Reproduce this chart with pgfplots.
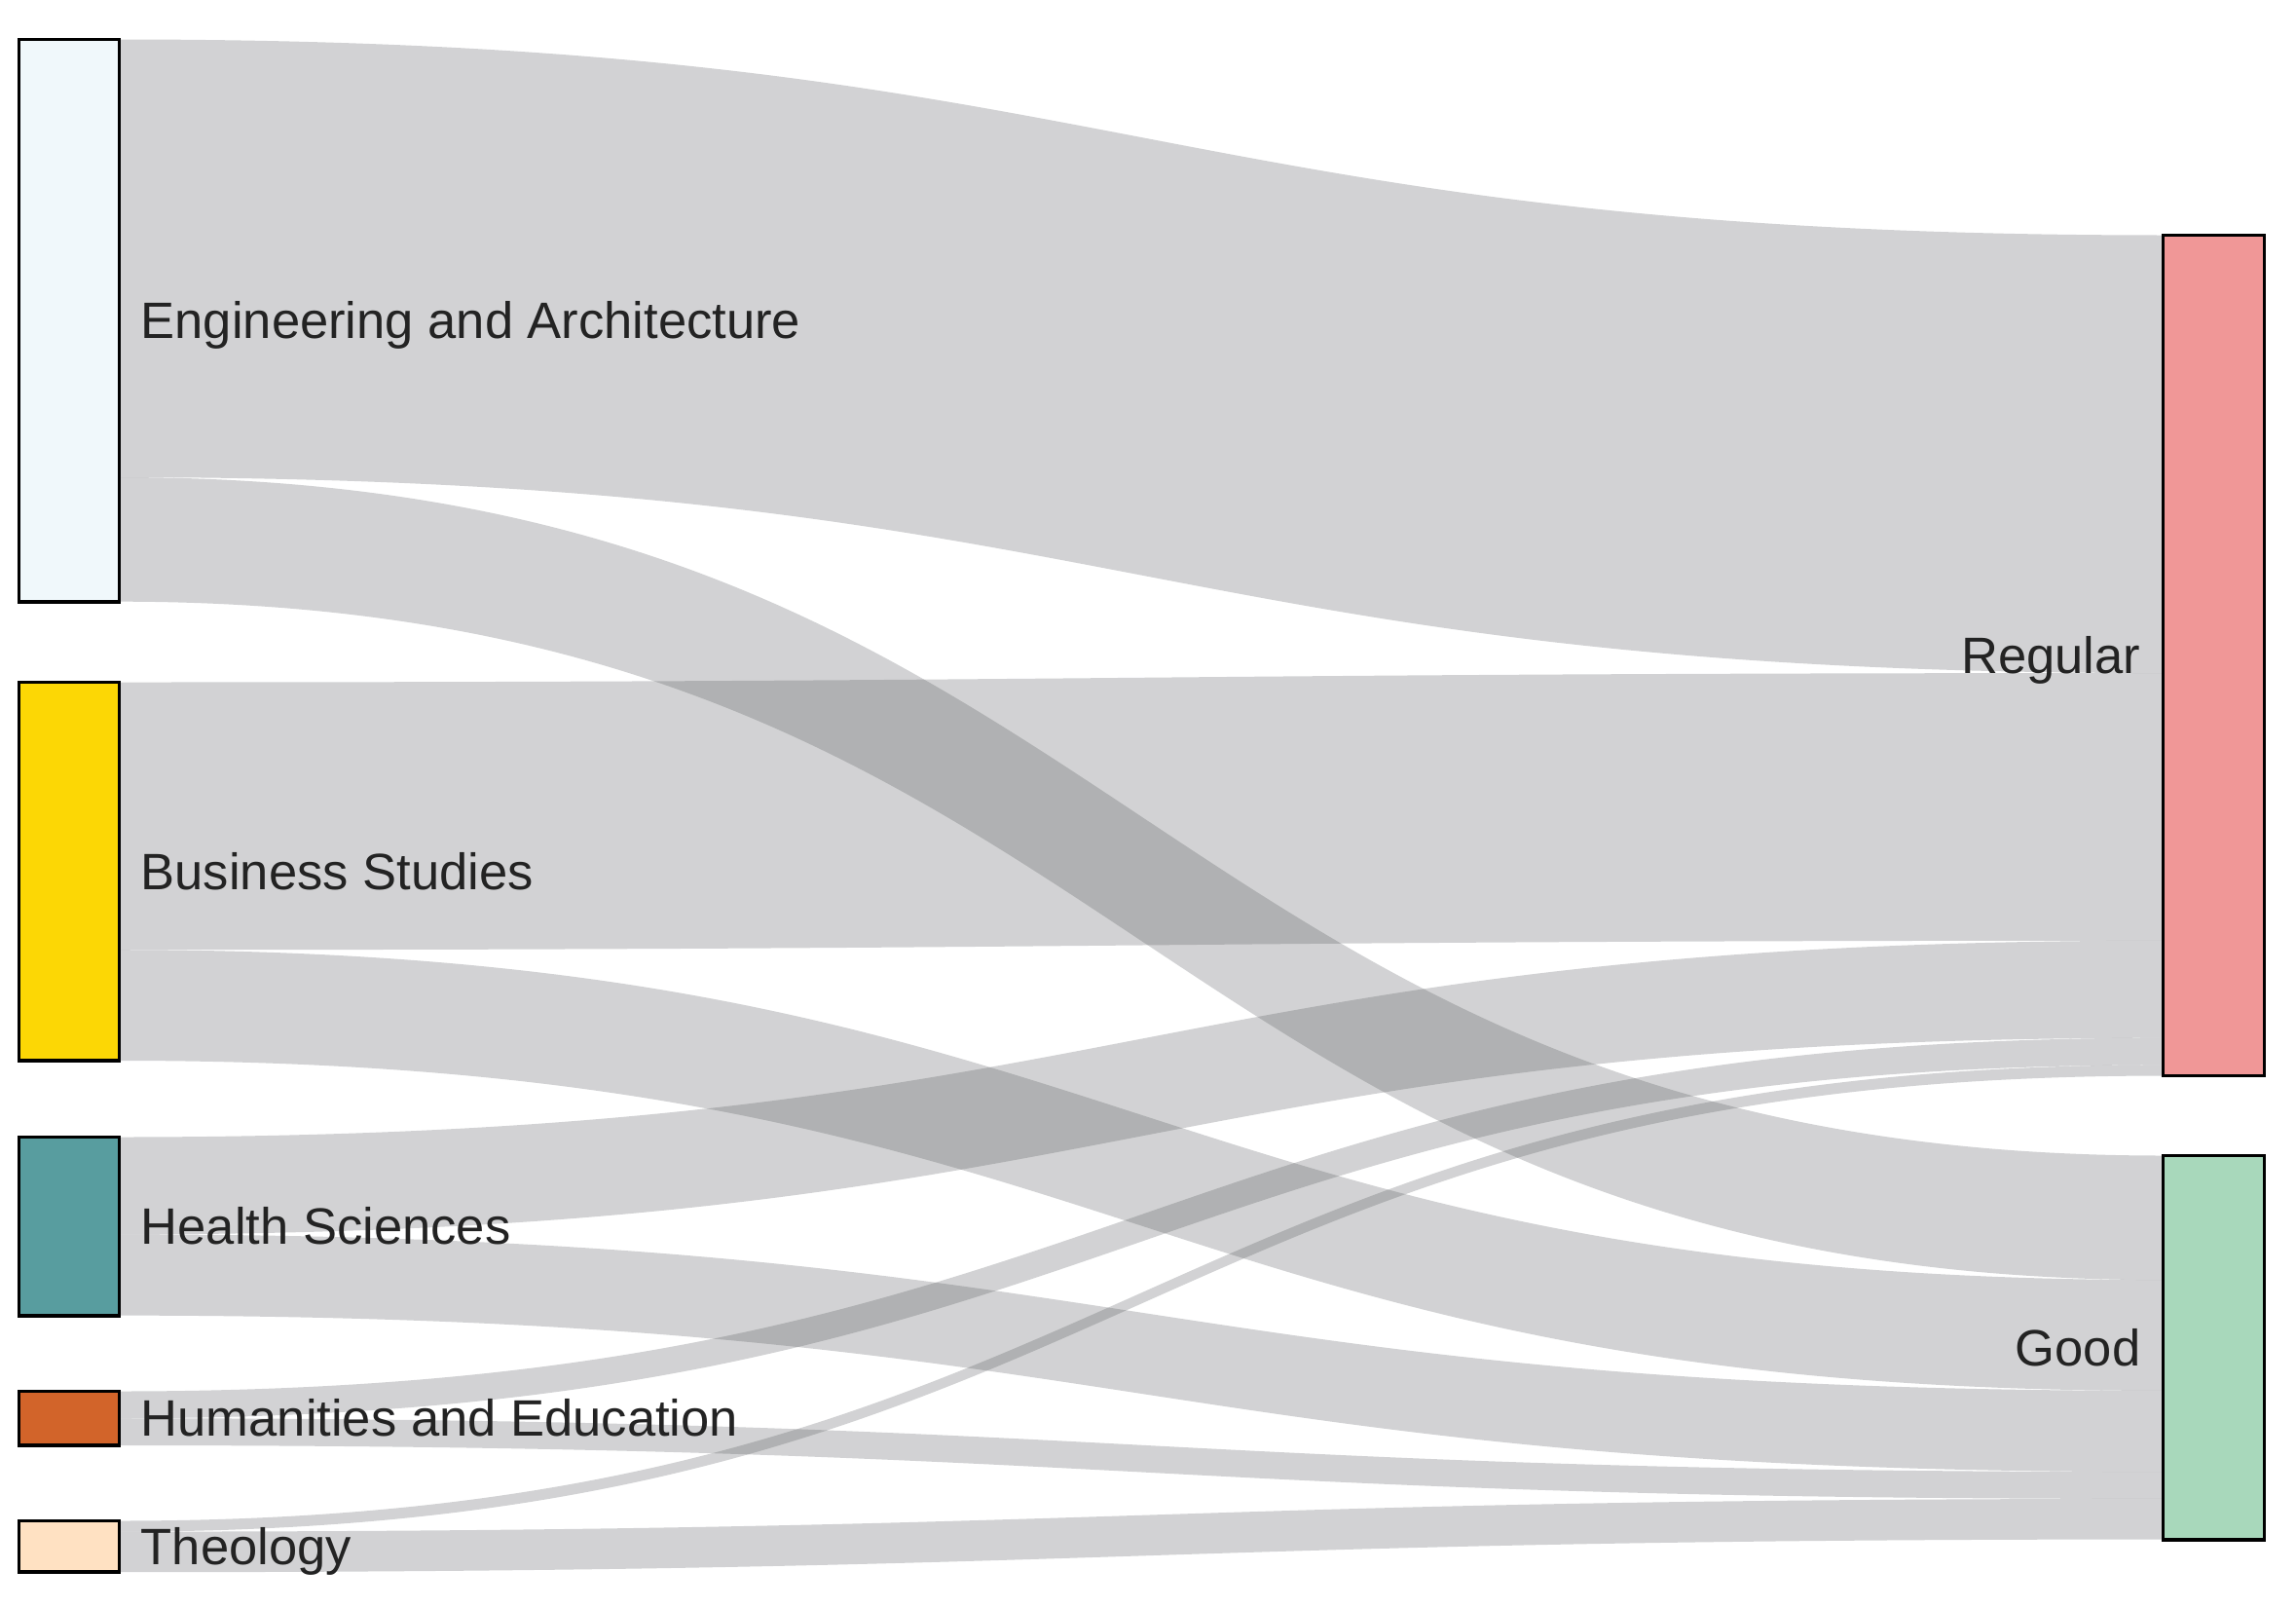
\documentclass[border=0pt]{standalone}
\usepackage{pgfplots}
\pgfplotsset{compat=1.18}
\usepackage{fontspec}
\setmainfont{Liberation Sans}

\definecolor{linkgray}{RGB}{75,77,82}
\definecolor{txt}{RGB}{35,35,35}
\definecolor{cEng}{RGB}{240,248,251}
\definecolor{cBus}{RGB}{252,215,5}
\definecolor{cHea}{RGB}{88,157,159}
\definecolor{cHum}{RGB}{210,100,42}
\definecolor{cThe}{RGB}{255,225,194}
\definecolor{cReg}{RGB}{240,151,151}
\definecolor{cGoo}{RGB}{168,216,187}

\newcommand\labfont{\fontsize{14.95}{17}\selectfont}

% layout in pixel units of the axis (1 unit = 0.01cm)
\def\k{5.55}% pixels per unit of flow
\def\xL{122.5}\def\xR{2221.5}\def\xM{1172}
\def\topEng{40.5}\def\topBus{700.5}\def\topHea{1167.5}\def\topHum{1428.5}\def\topThe{1561.5}
\def\topReg{241.5}\def\topGoo{1186.5}
% running offsets, filled by \flow
\def\offEng{0}\def\offBus{0}\def\offHea{0}\def\offHum{0}\def\offThe{0}
\def\offReg{0}\def\offGoo{0}

% \flow{source}{target}{value}
\newcommand\flow[3]{%
  \pgfmathsetmacro\ya{\csname top#1\endcsname+\csname off#1\endcsname*\k}%
  \pgfmathsetmacro\yb{\ya+#3*\k}%
  \pgfmathsetmacro\yc{\csname top#2\endcsname+\csname off#2\endcsname*\k}%
  \pgfmathsetmacro\yd{\yc+#3*\k}%
  \pgfmathsetmacro\tmp{\csname off#1\endcsname+#3}%
  \expandafter\xdef\csname off#1\endcsname{\tmp}%
  \pgfmathsetmacro\tmp{\csname off#2\endcsname+#3}%
  \expandafter\xdef\csname off#2\endcsname{\tmp}%
  \edef\temp{\noexpand\fill[linkgray, fill opacity=0.25]
    (axis cs:\xL,\ya) .. controls (axis cs:\xM,\ya) and (axis cs:\xM,\yc) .. (axis cs:\xR,\yc)
    -- (axis cs:\xR,\yd) .. controls (axis cs:\xM,\yd) and (axis cs:\xM,\yb) .. (axis cs:\xL,\yb) -- cycle;}%
  \temp
}

% \nodebox{x0}{x1}{name}{colour}
\newcommand\nodebox[4]{%
  \pgfmathsetmacro\yb{\csname top#3\endcsname+\csname off#3\endcsname*\k}%
  \edef\temp{\noexpand\filldraw[fill=#4, draw=black, line width=1.1pt]
    (axis cs:#1,\csname top#3\endcsname) rectangle (axis cs:#2,\yb);}%
  \temp
}

% \lab{x}{name}{anchor}{text}
\newcommand\lab[4]{%
  \pgfmathsetmacro\yc{\csname top#2\endcsname+0.5*\csname off#2\endcsname*\k}%
  \edef\temp{\noexpand\node[anchor=#3, text=txt, font=\noexpand\labfont, inner sep=0pt, yshift=-5.3pt]
    at (axis cs:#1,\yc) {#4};}%
  \temp
}

\begin{document}
\begin{tikzpicture}
\begin{axis}[
    width=23.58cm, height=16.51cm, scale only axis,
    xmin=0, xmax=2358, ymin=0, ymax=1651,
    y dir=reverse,
    hide axis, clip=false,
]
% whole canvas as bounding box
\path (axis cs:0,0) rectangle (axis cs:2358,1651);

% links: source, target, value
\flow{Eng}{Reg}{81}
\flow{Eng}{Goo}{23}
\flow{Bus}{Reg}{49.5}
\flow{Bus}{Goo}{20.5}
\flow{Hea}{Reg}{18}
\flow{Hea}{Goo}{15}
\flow{Hum}{Reg}{5}
\flow{Hum}{Goo}{5}
\flow{The}{Reg}{2}
\flow{The}{Goo}{7.5}

% nodes
\nodebox{19.5}{122.5}{Eng}{cEng}
\nodebox{19.5}{122.5}{Bus}{cBus}
\nodebox{19.5}{122.5}{Hea}{cHea}
\nodebox{19.5}{122.5}{Hum}{cHum}
\nodebox{19.5}{122.5}{The}{cThe}
\nodebox{2221.5}{2325.5}{Reg}{cReg}
\nodebox{2221.5}{2325.5}{Goo}{cGoo}

% labels
\lab{144}{Eng}{base west}{Engineering and Architecture}
\lab{144}{Bus}{base west}{Business Studies}
\lab{144}{Hea}{base west}{Health Sciences}
\lab{144}{Hum}{base west}{Humanities and Education}
\lab{144}{The}{base west}{Theology}
\lab{2199}{Reg}{base east}{Regular}
\lab{2199}{Goo}{base east}{Good}
\end{axis}
\end{tikzpicture}
\end{document}
